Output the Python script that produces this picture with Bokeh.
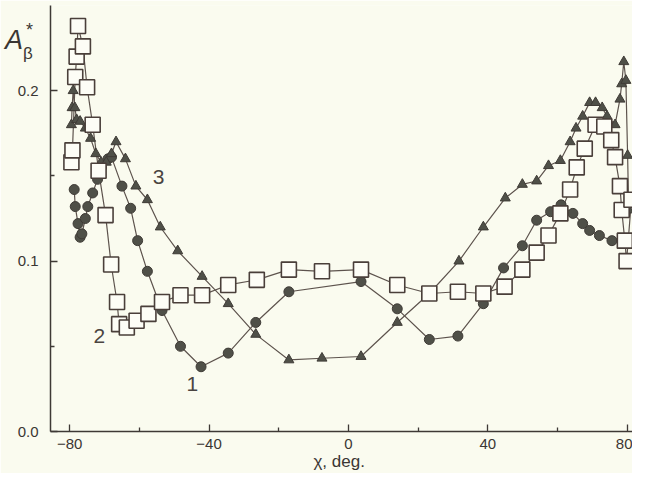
from bokeh.plotting import figure
from bokeh.models import Label, FixedTicker, Range1d, PrintfTickFormatter, Div
from bokeh.layouts import column
from bokeh.embed import file_html
from bokeh.resources import INLINE

# Curve 1 (filled circles)
x1 = [-78.7, -78.4, -77.6, -77.0, -76.5, -75.5, -74.8, -73.4, -72.0, -70.9, -69.0, -68.0,
      -65.0, -62.5, -60.5, -57.7, -53.5, -48.2, -42.3, -34.5, -26.6, -17.1, 3.6, 14.0,
      23.2, 31.4, 38.7, 44.5, 49.9, 54.0, 58.0, 61.0, 64.4, 67.2, 69.2, 72.0, 75.6, 78.4]
y1 = [0.142, 0.132, 0.122, 0.114, 0.116, 0.125, 0.132, 0.140, 0.148, 0.155, 0.160, 0.161,
      0.144, 0.131, 0.112, 0.094, 0.071, 0.050, 0.038, 0.046, 0.064, 0.082, 0.088, 0.072,
      0.054, 0.056, 0.075, 0.096, 0.109, 0.124, 0.129, 0.133, 0.128, 0.122, 0.118, 0.115, 0.112, 0.112]

# Curve 2 (open squares)
x2 = [-79.5, -79.2, -78.4, -78.0, -77.6, -76.2, -75.0, -73.4, -71.7, -69.7, -68.1, -66.4,
      -65.8, -63.6, -60.8, -57.4, -53.5, -48.2, -42.0, -34.5, -26.3, -17.1, -7.6, 3.6,
      14.0, 23.2, 31.4, 38.7, 44.8, 49.9, 54.0, 57.4, 60.8, 63.6, 65.5, 67.8, 70.9, 73.4,
      75.4, 76.5, 77.9, 78.4, 79.3, 79.8, 81.2]
y2 = [0.158, 0.165, 0.208, 0.220, 0.238, 0.226, 0.202, 0.180, 0.153, 0.127, 0.098, 0.076,
      0.063, 0.061, 0.065, 0.069, 0.076, 0.080, 0.080, 0.086, 0.089, 0.095, 0.094, 0.095,
      0.086, 0.081, 0.082, 0.081, 0.085, 0.095, 0.105, 0.115, 0.128, 0.142, 0.155, 0.166, 0.180, 0.179,
      0.171, 0.161, 0.144, 0.130, 0.112, 0.100, 0.136]

# Curve 3 (filled triangles)
x3 = [-79.5, -79.3, -79.0, -78.5, -78.0, -77.0, -75.5, -74.0, -72.5, -71.0, -69.5, -68.0,
      -66.7, -64.0, -61.0, -57.7, -54.0, -49.0, -42.0, -34.5, -26.6, -17.1, -7.6, 3.6,
      14.0, 23.2, 31.7, 38.7, 45.0, 49.9, 54.0, 57.4, 60.8, 63.6, 65.3, 67.2, 69.2, 70.9,
      72.8, 74.2, 76.5, 77.9, 78.4, 79.0, 79.6, 80.1, 80.4]
y3 = [0.180, 0.190, 0.200, 0.190, 0.183, 0.182, 0.178, 0.172, 0.163, 0.158, 0.158, 0.163,
      0.170, 0.160, 0.144, 0.136, 0.120, 0.106, 0.091, 0.075, 0.057, 0.042, 0.043, 0.044,
      0.064, 0.081, 0.100, 0.120, 0.137, 0.145, 0.147, 0.156, 0.159, 0.170, 0.178, 0.185, 0.193, 0.193,
      0.190, 0.185, 0.180, 0.195, 0.204, 0.217, 0.206, 0.162, 0.130]

x_ticks = [-80, -40, 0, 40, 80]
x_minor = [-60, -20, 20, 60]
y_ticks = [0.0, 0.1, 0.2]
y_minor = [0.05, 0.15]

bg = "#fafbef"
ink = "#5d534d"
axc = "#3e3935"
font = "Liberation Sans"

p = figure(width=632, height=473, output_backend="svg", toolbar_location=None,
           x_range=Range1d(-85.5, 81.5), y_range=Range1d(0, 0.25),
           min_border_left=0, min_border_right=0, min_border_top=5, min_border_bottom=41)
p.background_fill_color = bg
p.border_fill_color = bg
p.outline_line_color = None
p.grid.visible = False

for ax in (p.xaxis[0], p.yaxis[0]):
    ax.axis_line_color = axc
    ax.axis_line_width = 1.5
    ax.major_tick_in = 7
    ax.major_tick_out = 0
    ax.minor_tick_in = 4
    ax.minor_tick_out = 0
    ax.major_tick_line_color = axc
    ax.minor_tick_line_color = axc
    ax.major_tick_line_width = 1.3
    ax.minor_tick_line_width = 1.3
    ax.major_label_text_font = font
    ax.major_label_text_font_size = "15px"
    ax.major_label_text_color = "#3a3633"

p.xaxis.major_label_standoff = 7
p.yaxis.major_label_standoff = 12
# a blank axis label on the y axis only keeps room free for the title at the far left
p.yaxis.axis_label = "\u00a0"
p.yaxis.axis_label_text_font_size = "10px"
p.yaxis.axis_label_standoff = 0
p.xaxis.ticker = FixedTicker(ticks=x_ticks, minor_ticks=x_minor)
p.yaxis.ticker = FixedTicker(ticks=y_ticks, minor_ticks=y_minor)
p.yaxis.formatter = PrintfTickFormatter(format="%.1f")
p.xaxis.axis_label = "χ,  deg."
p.xaxis.axis_label_text_font = font
p.xaxis.axis_label_text_font_style = "normal"
p.xaxis.axis_label_text_font_size = "17px"
p.xaxis.axis_label_text_color = "#3a3633"
p.xaxis.axis_label_standoff = 0

lw = 1.2
p.line(x1, y1, line_color=ink, line_width=lw)
p.line(x3, y3, line_color=ink, line_width=lw)
p.line(x2, y2, line_color=ink, line_width=lw)
p.scatter(x1, y1, marker="circle", size=10, fill_color="#4f5048", line_color="#3f3b36", line_width=1)
p.scatter(x3, y3, marker="triangle", size=10, fill_color="#4f5048", line_color="#3f3b36", line_width=1)
p.scatter(x2, y2, marker="square", size=15, fill_color="#fdfdf6", line_color="#4a3f3a", line_width=1.6)

# curve numbers
for t, xx, yy in [("1", -44.8, 0.024), ("2", -71.5, 0.052), ("3", -54.5, 0.145)]:
    p.add_layout(Label(x=xx, y=yy, text=t, text_font=font, text_font_size="21px",
                       text_color="#4a4440", text_align="center", text_baseline="bottom"))

# y-axis title  A*_beta, laid over the left border of the plot
title_html = (
    "<div style=\"position:relative;width:40px;height:70px;font-family:'Liberation Sans';"
    "color:#3a3633;line-height:1;\">"
    "<span style=\"position:absolute;left:5px;top:27px;font-size:27px;font-style:italic;\">A</span>"
    "<span style=\"position:absolute;left:23px;top:45px;font-size:17px;\">β</span>"
    "<span style=\"position:absolute;left:26px;top:21px;font-size:18px;\">*</span>"
    "</div>"
)
ylab = Div(text=title_html, width=40, height=70,
           styles={"position": "absolute", "left": "0px", "top": "0px", "z-index": "10",
                   "margin": "0", "padding": "0"})

layout = column(p, ylab)

open("out.html", "w").write(file_html(layout, INLINE))
